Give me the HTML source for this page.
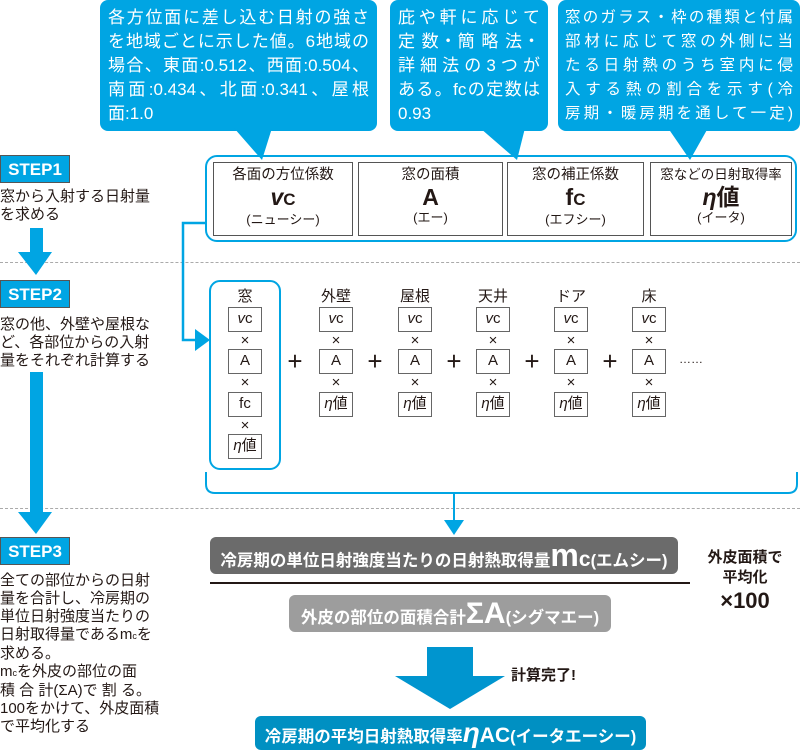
<!DOCTYPE html>
<html><head><meta charset="utf-8">
<style>
body{margin:0;background:#fff;}
#c{position:relative;width:800px;height:752px;overflow:hidden;font-family:"Liberation Sans","Noto Sans CJK JP",sans-serif;color:#231815;}
.a{position:absolute;}
.call{position:absolute;background:#00a5e3;border-radius:8px;color:#fff;font-size:17px;line-height:24px;padding:6px 8px;box-sizing:border-box;}
.call div{text-align:justify;text-align-last:justify;white-space:nowrap;}
.call div.l{text-align-last:left;}
.cell{position:absolute;top:162px;height:74px;border:1.5px solid #555;box-sizing:border-box;text-align:center;background:#fff;}
.cell .t{font-size:14.5px;margin-top:3px;line-height:18px;}
.cell .s{font-size:23px;font-weight:bold;line-height:25px;margin-top:1px;}
.cell .r{font-size:13px;line-height:15px;}
.step{position:absolute;left:0;width:70px;height:28px;background:#00a5e3;border:1px solid #555;box-sizing:border-box;color:#fff;font-weight:bold;font-size:17px;line-height:27px;text-align:center;}
.txt{position:absolute;left:0;font-size:15px;line-height:18px;white-space:nowrap;}
.sb{position:absolute;width:34px;height:25px;border:1.5px solid #666;box-sizing:border-box;text-align:center;font-size:15px;line-height:22px;background:#fff;}
.x{position:absolute;width:34px;text-align:center;font-size:15px;line-height:14px;}
.lab{position:absolute;width:50px;text-align:center;font-size:15px;}
.plus{position:absolute;font-size:26px;line-height:24px;width:20px;text-align:center;}
.dash{position:absolute;left:0;width:800px;border-top:1px dashed #aaa;}
.bar{position:absolute;border-radius:6px;color:#fff;font-weight:bold;text-align:center;white-space:nowrap;}
</style></head><body><div id="c">

<div class="call" style="left:100px;top:0;width:277px;height:131px;">
<div>各方位面に差し込む日射の強さ</div>
<div>を地域ごとに示した値。6地域の</div>
<div>場合、東面:0.512、西面:0.504、</div>
<div>南面:0.434、北面:0.341、屋根</div>
<div class="l">面:1.0</div>
</div>
<svg class="a" style="left:0;top:0" width="800" height="170"><polygon points="234,128 272,128 262,160" fill="#00a5e3"/><polygon points="480,128 525,128 517,160" fill="#00a5e3"/><polygon points="668,128 708,128 690,160" fill="#00a5e3"/></svg>
<div class="call" style="left:390px;top:0;width:158px;height:131px;">
<div>庇や軒に応じて</div>
<div>定 数・簡 略 法・</div>
<div>詳細法の3つが</div>
<div>ある。fcの定数は</div>
<div class="l">0.93</div>
</div>
<div class="call" style="left:558px;top:0;width:242px;height:131px;font-size:15.5px;padding:6px 7px;">
<div>窓のガラス・枠の種類と付属</div>
<div>部材に応じて窓の外側に当</div>
<div>たる日射熱のうち室内に侵</div>
<div>入する熱の割合を示す(冷</div>
<div>房期・暖房期を通して一定)</div>
</div>

<div class="a" style="left:205px;top:155px;width:592px;height:87px;border:2px solid #00a5e3;border-radius:12px;box-sizing:border-box;"></div>
<div class="cell" style="left:213px;width:140px;"><div class="t">各面の方位係数</div><div class="s"><i>v</i><span style="font-size:17px">C</span></div><div class="r">(ニューシー)</div></div>
<div class="cell" style="left:358px;width:145px;"><div class="t">窓の面積</div><div class="s">A</div><div class="r">(エー)</div></div>
<div class="cell" style="left:507px;width:137px;"><div class="t">窓の補正係数</div><div class="s">f<span style="font-size:17px">C</span></div><div class="r">(エフシー)</div></div>
<div class="cell" style="left:650px;width:142px;"><div class="t" style="font-size:13.5px">窓などの日射取得率</div><div class="s"><i>η</i>値</div><div class="r">(イータ)</div></div>

<div class="step" style="top:155px;">STEP1</div>
<div class="txt" style="top:188px;">窓から入射する日射量<br>を求める</div>
<div class="dash" style="top:262px;"></div>
<div class="step" style="top:280px;">STEP2</div>
<div class="txt" style="top:316px;">窓の他、外壁や屋根な<br>ど、各部位からの入射<br>量をそれぞれ計算する</div>
<div class="dash" style="top:508px;"></div>
<div class="step" style="top:537px;">STEP3</div>
<div class="txt" style="top:572px;">全ての部位からの日射<br>量を合計し、冷房期の<br>単位日射強度当たりの<br>日射取得量であるm<span style="font-size:9px">c</span>を<br>求める。<br>m<span style="font-size:9px">c</span>を外皮の部位の面<br>積 合 計(ΣA)で 割 る。<br>100をかけて、外皮面積<br>で平均化する</div>

<svg class="a" style="left:0;top:0" width="800" height="752">
<rect x="30" y="228" width="13" height="25" fill="#00a5e3"/>
<polygon points="18,252 52,252 36,275" fill="#00a5e3"/>
<rect x="30" y="372" width="13" height="142" fill="#00a5e3"/>
<polygon points="18,512 52,512 36,534" fill="#00a5e3"/>
<polyline points="205,223 183,223 183,340 198,340" fill="none" stroke="#00a5e3" stroke-width="2.5"/>
<polygon points="195,329 210,340 195,351" fill="#00a5e3"/>
<rect x="210" y="281" width="70" height="188" rx="10" fill="none" stroke="#00a5e3" stroke-width="2"/>
<path d="M206,472 V484 Q206,493 215,493 H788 Q797,493 797,484 V472" fill="none" stroke="#00a5e3" stroke-width="2"/>
<line x1="454" y1="493" x2="454" y2="522" stroke="#00a5e3" stroke-width="2"/>
<polygon points="444,520 464,520 454,535" fill="#00a5e3"/>
<line x1="210" y1="583" x2="690" y2="583" stroke="#231815" stroke-width="2"/>
<rect x="427" y="647" width="46" height="30" fill="#0095cf"/>
<polygon points="395,676 505,676 450,709" fill="#0095cf"/>
</svg>

<div class="lab" style="left:220px;top:285px;">窓</div>
<div class="sb" style="left:228px;top:307px;"><i>v</i>c</div>
<div class="x" style="left:228px;top:334px;">×</div>
<div class="sb" style="left:228px;top:349px;">A</div>
<div class="x" style="left:228px;top:376px;">×</div>
<div class="sb" style="left:228px;top:392px;">fc</div>
<div class="x" style="left:228px;top:419px;">×</div>
<div class="sb" style="left:228px;top:434px;"><i>η</i>値</div>

<div class="lab" style="left:311px;top:285px;">外壁</div>
<div class="sb" style="left:319px;top:307px;"><i>v</i>c</div><div class="x" style="left:319px;top:334px;">×</div><div class="sb" style="left:319px;top:349px;">A</div><div class="x" style="left:319px;top:376px;">×</div><div class="sb" style="left:319px;top:392px;"><i>η</i>値</div>
<div class="lab" style="left:390px;top:285px;">屋根</div>
<div class="sb" style="left:398px;top:307px;"><i>v</i>c</div><div class="x" style="left:398px;top:334px;">×</div><div class="sb" style="left:398px;top:349px;">A</div><div class="x" style="left:398px;top:376px;">×</div><div class="sb" style="left:398px;top:392px;"><i>η</i>値</div>
<div class="lab" style="left:468px;top:285px;">天井</div>
<div class="sb" style="left:476px;top:307px;"><i>v</i>c</div><div class="x" style="left:476px;top:334px;">×</div><div class="sb" style="left:476px;top:349px;">A</div><div class="x" style="left:476px;top:376px;">×</div><div class="sb" style="left:476px;top:392px;"><i>η</i>値</div>
<div class="lab" style="left:546px;top:285px;">ドア</div>
<div class="sb" style="left:554px;top:307px;"><i>v</i>c</div><div class="x" style="left:554px;top:334px;">×</div><div class="sb" style="left:554px;top:349px;">A</div><div class="x" style="left:554px;top:376px;">×</div><div class="sb" style="left:554px;top:392px;"><i>η</i>値</div>
<div class="lab" style="left:624px;top:285px;">床</div>
<div class="sb" style="left:632px;top:307px;"><i>v</i>c</div><div class="x" style="left:632px;top:334px;">×</div><div class="sb" style="left:632px;top:349px;">A</div><div class="x" style="left:632px;top:376px;">×</div><div class="sb" style="left:632px;top:392px;"><i>η</i>値</div>

<div class="plus" style="left:285px;top:349px;">+</div>
<div class="plus" style="left:365px;top:349px;">+</div>
<div class="plus" style="left:444px;top:349px;">+</div>
<div class="plus" style="left:522px;top:349px;">+</div>
<div class="plus" style="left:600px;top:349px;">+</div>
<div class="a" style="left:679px;top:352px;font-size:12px;">……</div>

<div class="bar" style="left:210px;top:537px;width:468px;height:37px;background:#6b6b6b;font-size:16.5px;line-height:37px;">冷房期の単位日射強度当たりの日射熱取得量<span style="font-size:32px;">m</span><span style="font-size:21px;">c</span>(エムシー)</div>
<div class="bar" style="left:289px;top:595px;width:322px;height:37px;background:#9d9d9d;font-size:16.5px;line-height:37px;">外皮の部位の面積合計<span style="font-size:30px;">ΣA</span>(シグマエー)</div>
<div class="a" style="left:695px;top:548px;width:100px;text-align:center;font-weight:bold;font-size:15px;line-height:20px;">外皮面積で<br>平均化<br><span style="font-size:22px;line-height:26px;">×100</span></div>
<div class="a" style="left:511px;top:664px;font-weight:bold;font-size:15px;">計算完了!</div>
<div class="bar" style="left:255px;top:716px;width:391px;height:34px;background:#0090c2;font-size:16.5px;line-height:34px;">冷房期の平均日射熱取得率<i style="font-size:28px;">η</i><span style="font-size:21px;">AC</span>(イータエーシー)</div>

</div></body></html>
